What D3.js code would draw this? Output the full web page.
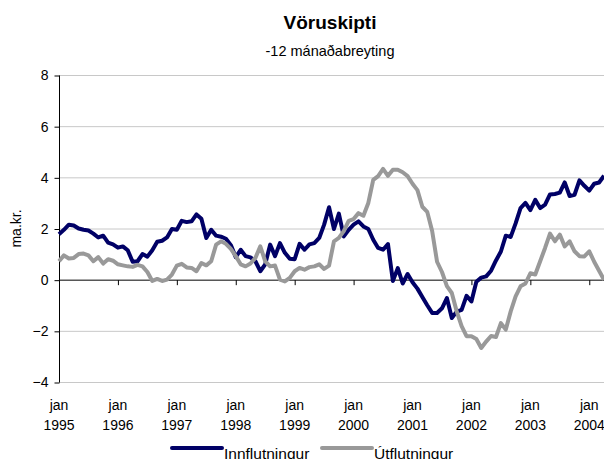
<!DOCTYPE html>
<html>
<head>
<meta charset="utf-8">
<script src="https://cdn.jsdelivr.net/npm/d3@7"></script>
<style>
	body { margin: 0; background: #fff; }
	svg { display: block; font-family: Arial, "Liberation Sans", sans-serif; }
</style>
</head>
<body>
<svg id="chart" width="604" height="459"></svg>
<script>
// Vöruskipti, 12 mánaða breyting, ma.kr. (jan 1995 - apr 2004, mánaðargögn)
var years = ["1995", "1996", "1997", "1998", "1999", "2000", "2001", "2002", "2003", "2004"];
var yTicks = [-4, -2, 0, 2, 4, 6, 8];
var seriesNames = ["Innflutningur", "Útflutningur"];

var innflutningur = [
	1.78, 1.95, 2.15, 2.12, 2.0, 1.95, 1.92, 1.8, 1.65, 1.72, 1.45, 1.38,
	1.25, 1.3, 1.15, 0.7, 0.72, 1.0, 0.9, 1.15, 1.48, 1.52, 1.65, 1.98,
	1.95, 2.3, 2.25, 2.28, 2.55, 2.38, 1.63, 1.95, 1.72, 1.68, 1.6, 1.35,
	0.88, 1.17, 0.92, 0.87, 0.72, 0.33, 0.6, 1.37, 0.92, 1.43, 1.05, 0.82,
	0.8, 1.4, 1.17, 1.38, 1.43, 1.63, 2.15, 2.83, 1.98, 2.58, 1.69, 1.95,
	2.15, 2.28, 2.08, 1.98, 1.56, 1.24, 1.17, 1.39, -0.05, 0.45, -0.15, 0.22,
	-0.1, -0.35, -0.68, -1.0, -1.3, -1.3, -1.12, -0.72, -1.5, -1.25, -1.18, -0.63,
	-0.85, -0.08, 0.08, 0.13, 0.35, 0.75, 1.1, 1.72, 1.67, 2.2, 2.8, 3.0,
	2.72, 3.12, 2.8, 2.93, 3.33, 3.35, 3.4, 3.8, 3.27, 3.32, 3.88, 3.67,
	3.48, 3.75, 3.8, 4.06
];

var utflutningur = [
	0.72, 0.95, 0.83, 0.85, 1.0, 1.02, 0.95, 0.72, 0.88, 0.63, 0.8, 0.74,
	0.6, 0.56, 0.52, 0.5, 0.58, 0.52, 0.3, -0.05, 0.03, -0.05, 0.0, 0.2,
	0.55, 0.62, 0.48, 0.46, 0.33, 0.65, 0.56, 0.72, 1.37, 1.5, 1.4, 1.2,
	0.92, 0.6, 0.52, 0.63, 0.85, 1.3, 0.72, 0.52, 0.55, 0.0, -0.07, 0.07,
	0.33, 0.46, 0.39, 0.49, 0.52, 0.6, 0.42, 0.55, 1.5, 1.63, 1.9, 2.3,
	2.37, 2.6, 2.5, 3.0, 3.9, 4.05, 4.33, 4.06, 4.3, 4.3, 4.2, 4.05,
	3.75, 3.5, 2.85, 2.65, 1.9, 0.7, 0.3, -0.25, -0.52, -1.24, -1.82, -2.21,
	-2.21, -2.32, -2.67, -2.42, -2.2, -2.24, -1.7, -1.95, -1.24, -0.65, -0.26, -0.15,
	0.25, 0.2, 0.72, 1.24, 1.8, 1.5, 1.76, 1.3, 1.5, 1.11, 0.92, 0.91,
	1.11, 0.7, 0.35, 0.0
];

var colors = ["#000066", "#999999"];

var svg = d3.select("#chart"),
	plotLeft = 59,
	plotRight = 604,
	plotTop = 75,
	plotBottom = 382,
	titleX = 330;

// mánuðir eru jafnt dreifðir, eins og flokkaás
var x = d3.scaleLinear()
	.domain([0, 111])
	.range([plotLeft, plotRight]);

var y = d3.scaleLinear()
	.domain([-4, 8])
	.range([plotBottom, plotTop]);

// titlar
svg.append("text")
	.attr("x", titleX).attr("y", 29)
	.attr("text-anchor", "middle")
	.attr("font-size", "19px")
	.attr("font-weight", "bold")
	.text("Vöruskipti");

svg.append("text")
	.attr("x", titleX).attr("y", 56)
	.attr("text-anchor", "middle")
	.attr("font-size", "14.5px")
	.text("-12 mánaðabreyting");

svg.append("text")
	.attr("transform", "translate(21," + ((plotTop + plotBottom) / 2) + ") rotate(-90)")
	.attr("text-anchor", "middle")
	.attr("font-size", "14px")
	.text("ma.kr.");

// hnitanet
svg.append("g")
	.selectAll("line")
	.data(yTicks.filter(function(d) { return d !== 0; }))
	.join("line")
	.attr("x1", plotLeft).attr("x2", plotRight)
	.attr("y1", function(d) { return y(d) + 0.5; })
	.attr("y2", function(d) { return y(d) + 0.5; })
	.attr("stroke", "#c8c8c8")
	.attr("stroke-width", 1);

// y-ás
var yAxis = d3.axisLeft(y)
	.tickValues(yTicks)
	.tickSize(5)
	.tickPadding(6)
	.tickFormat(d3.format("d"));

var yAxisG = svg.append("g")
	.attr("transform", "translate(" + (plotLeft + 0.5) + ",0.5)")
	.call(yAxis);

yAxisG.select(".domain").attr("d", "M0," + plotTop + "V" + plotBottom);
yAxisG.selectAll("text")
	.attr("font-size", "14px")
	.attr("font-family", "Arial, 'Liberation Sans', sans-serif")
	.attr("fill", "#000");

// x-ás við núll, merki við hvert ár
var yearIdx = years.map(function(d, i) { return i * 12; });

var xAxis = d3.axisBottom(x)
	.tickValues(yearIdx)
	.tickSize(5)
	.tickFormat("");

var xAxisG = svg.append("g")
	.attr("transform", "translate(0," + (y(0) + 0.5) + ")")
	.call(xAxis);

xAxisG.select(".domain").attr("d", "M" + plotLeft + ",0H" + plotRight);

var labels = svg.append("g")
	.attr("font-size", "14px")
	.attr("text-anchor", "middle")
	.selectAll("g")
	.data(years)
	.join("g")
	.attr("transform", function(d, i) { return "translate(" + x(yearIdx[i]) + ",0)"; });

labels.append("text").attr("y", 410).text("jan");
labels.append("text").attr("y", 430).text(function(d) { return d; });

// línur
var line = d3.line()
	.x(function(d, i) { return x(i); })
	.y(function(d) { return y(d); });

svg.append("g")
	.selectAll("path")
	.data([innflutningur, utflutningur])
	.join("path")
	.attr("d", line)
	.attr("fill", "none")
	.attr("stroke", function(d, i) { return colors[i]; })
	.attr("stroke-width", 4)
	.attr("stroke-linejoin", "round");

// skýringar
var legendX = [172, 322];

var legend = svg.append("g")
	.selectAll("g")
	.data(seriesNames)
	.join("g")
	.attr("transform", function(d, i) { return "translate(" + legendX[i] + ",448)"; });

legend.append("line")
	.attr("x1", 0).attr("x2", 50)
	.attr("stroke", function(d, i) { return colors[i]; })
	.attr("stroke-width", 4)
	.attr("stroke-linecap", "round");

legend.append("text")
	.attr("x", 52).attr("y", 11)
	.attr("font-size", "15.5px")
	.text(function(d) { return d; });
</script>
</body>
</html>
